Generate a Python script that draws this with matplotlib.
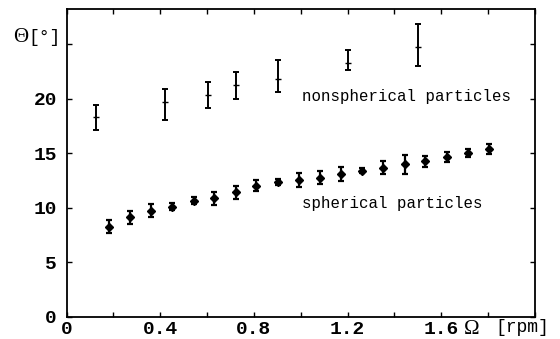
"""Tilt angle vs rotation rate for spherical and nonspherical particles."""

import matplotlib
matplotlib.use("Agg")
import matplotlib.pyplot as plt
from matplotlib.ticker import MultipleLocator

# nonspherical particles: omega [rpm], theta [deg], lower / upper error
ns_omega = [0.124, 0.422, 0.602, 0.725, 0.902, 1.203, 1.503]
ns_theta = [18.3, 19.7, 20.3, 21.2, 21.8, 23.3, 24.7]
ns_err_lo = [1.15, 1.7, 1.2, 1.2, 1.2, 0.7, 1.75]
ns_err_hi = [1.15, 1.2, 1.2, 1.2, 1.75, 1.15, 2.15]

# spherical particles
sp_omega = [0.183, 0.271, 0.360, 0.450, 0.542, 0.631, 0.722, 0.811, 0.902, 0.992,
            1.082, 1.170, 1.263, 1.353, 1.444, 1.533, 1.623, 1.713, 1.803]
sp_theta = [8.26, 9.12, 9.72, 10.09, 10.61, 10.86, 11.41, 11.99, 12.36, 12.54,
            12.75, 13.09, 13.39, 13.67, 13.98, 14.26, 14.68, 14.99, 15.36]
sp_err = [0.58, 0.58, 0.61, 0.35, 0.32, 0.6, 0.6, 0.5, 0.3, 0.62,
          0.62, 0.62, 0.23, 0.61, 0.88, 0.5, 0.46, 0.38, 0.46]

x_ticks = [0, 0.4, 0.8, 1.2, 1.6]
x_ticklabels = ["0", "0.4", "0.8", "1.2", "1.6"]
y_ticks = [0, 5, 10, 15, 20, 25]
y_ticklabels = ["0", "5", "10", "15", "20", ""]

MONO = "Liberation Mono"
SERIF = "Liberation Serif"

fig = plt.figure(figsize=(5.6, 3.39), dpi=100)
ax = fig.add_axes([0.119, 0.066, 0.836, 0.907])

ax.errorbar(ns_omega, ns_theta, yerr=[ns_err_lo, ns_err_hi], fmt="_",
            color="black", markersize=4, elinewidth=1.4, capsize=2.5,
            capthick=1.4)
ax.errorbar(sp_omega, sp_theta, yerr=sp_err, fmt="D", color="black",
            markersize=4.3, elinewidth=1.6, capsize=2.2, capthick=1.6)

ax.set_xlim(0, 2.0)
ax.set_ylim(0, 28.2)
ax.set_xticks(x_ticks)
ax.set_xticklabels(x_ticklabels)
ax.xaxis.set_minor_locator(MultipleLocator(0.2))
ax.set_yticks(y_ticks)
ax.set_yticklabels(y_ticklabels)

ax.tick_params(which="both", direction="in", top=True, right=True,
               width=1.0, length=3.5)
ax.tick_params(axis="x", pad=3)
ax.tick_params(axis="y", pad=7)
for lab in ax.get_xticklabels() + ax.get_yticklabels():
    lab.set_fontfamily(MONO)
    lab.set_fontsize(14)
    lab.set_fontweight("bold")
for spine in ax.spines.values():
    spine.set_linewidth(1.3)

ax.text(1.006, 20.15, "nonspherical particles", family=MONO, fontsize=11.3,
        va="center", ha="left")
ax.text(1.006, 10.4, "spherical particles", family=MONO, fontsize=11.3,
        va="center", ha="left")

# axis labels sit in the tick label rows
fig.text(21 / 560, 1 - 37 / 339, "\u0398", family=SERIF, fontsize=15,
         ha="center", va="center")
fig.text(45 / 560, 1 - 37 / 339, "[\u00b0]", family=MONO, fontsize=13,
         ha="center", va="center")
fig.text(472 / 560, 1 - 329 / 339, "\u03a9", family=SERIF, fontsize=15,
         ha="center", va="center")
fig.text(522 / 560, 1 - 328 / 339, "[rpm]", family=MONO, fontsize=13,
         ha="center", va="center")

fig.savefig("out.png", dpi=100)
